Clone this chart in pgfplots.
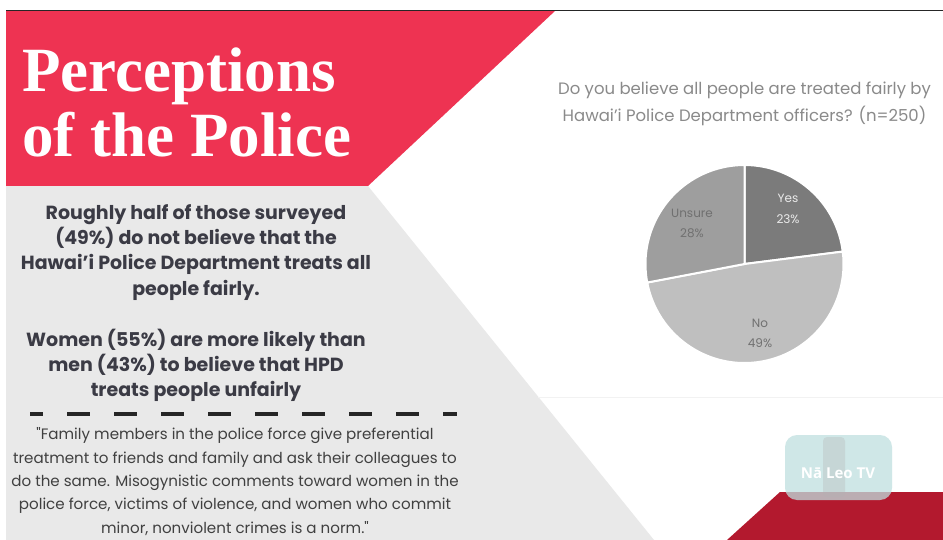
\documentclass[border=0pt]{standalone}
\usepackage{pgfplots}
\pgfplotsset{compat=1.18}
\usepackage{pgfplotstable}
\usepackage{fontspec}
\setmainfont{Poppins}
\newfontfamily\titlefont{Liberation Serif}
\newfontfamily\wmfont{Open Sans}
\newfontfamily\qfont[Ligatures=ResetAll]{Poppins}
\definecolor{hred}{HTML}{EE3352}
\definecolor{dred}{HTML}{B3192E}
\definecolor{panel}{HTML}{E9E9E9}
\definecolor{txt}{HTML}{3B3B45}
\definecolor{qtxt}{HTML}{404040}
\definecolor{yescol}{HTML}{7B7B7B}
\definecolor{nocol}{HTML}{BFBFBF}
\definecolor{unscol}{HTML}{9E9E9E}
\definecolor{ptitle}{HTML}{8A8A8A}
\definecolor{plab}{HTML}{707070}
\pgfplotstableread{
label value
Yes 23
No 49
Unsure 28
}\piedata
\begin{document}
\begin{tikzpicture}[x=1pt,y=1pt]
\pgfplotstablegetelem{0}{value}\of\piedata\edef\vYes{\pgfplotsretval}
\pgfplotstablegetelem{1}{value}\of\piedata\edef\vNo{\pgfplotsretval}
\pgfplotstablegetelem{2}{value}\of\piedata\edef\vUns{\pgfplotsretval}
\pgfmathsetmacro\aA{90-3.6*\vYes}
\pgfmathsetmacro\aB{\aA-3.6*\vNo}
\pgfmathsetmacro\aC{\aB-3.6*\vUns}
\path[use as bounding box] (0,0) rectangle (943,-540);
\fill[white] (0,0) rectangle (943,-540);
% panels
\fill[panel] (6,-186) -- (368,-186) -- (654,-540) -- (6,-540) -- cycle;
\fill[hred] (6,-11) -- (555,-11) -- (368,-186) -- (6,-186) -- cycle;
\draw[black!85, line width=1.5pt] (6,-10.5) -- (943,-10.5);
\draw[black!5, line width=0.8pt] (538,-397) -- (943,-397);
\fill[dred] (780,-492) -- (943,-492) -- (943,-540) -- (727,-540) -- cycle;
% title
\node[anchor=base west, inner sep=0, text=white, font=\titlefont\bfseries\fontsize{63}{63}\selectfont] at (22,-92) {Perceptions};
\node[anchor=base west, inner sep=0, text=white, font=\titlefont\bfseries\fontsize{63}{63}\selectfont] at (22,-157) {of the Police};
% bold statements
\begin{scope}[every node/.style={anchor=base, inner sep=0, text=txt, font=\bfseries\fontsize{19}{19}\selectfont}]
\node at (196,-220) {Roughly half of those surveyed};
\node at (196,-245) {(49\%) do not believe that the};
\node at (196,-270) {Hawai’i Police Department treats all};
\node at (196,-295) {people fairly.};
\node at (196,-346) {Women (55\%) are more likely than};
\node at (196,-371) {men (43\%) to believe that HPD};
\node at (196,-396) {treats people unfairly};
\end{scope}
\draw[black!85, line width=4pt, dash pattern=on 23pt off 24pt, dash phase=10pt] (30,-414) -- (457,-414);
\begin{scope}[every node/.style={anchor=base, inner sep=0, text=qtxt, font=\qfont\fontsize{15.1}{15.1}\selectfont}]
\node at (235,-439) {"Family members in the police force give preferential};
\node at (235,-463) {treatment to friends and family and ask their colleagues to};
\node at (235,-486) {do the same. Misogynistic comments toward women in the};
\node at (235,-509) {police force, victims of violence, and women who commit};
\node at (235,-533) {minor, nonviolent crimes is a norm."};
\end{scope}
% pie title
\node[anchor=base, inner sep=0, text=ptitle, font=\fontsize{16.5}{16.5}\selectfont] at (744.5,-95) {Do you believe all people are treated fairly by};
\node[anchor=base, inner sep=0, text=ptitle, font=\fontsize{16.5}{16.5}\selectfont] at (744.5,-122) {Hawai'i Police Department officers? (n=250)};
% pie
\begin{axis}[at={(744.5pt,-264pt)}, anchor=origin, x=99pt, y=99pt,
  xmin=-1.2, xmax=1.2, ymin=-1.2, ymax=1.2, hide axis, clip=false]
\fill[yescol, draw=white, line width=2pt] (axis cs:0,0) -- ++(90:99pt) arc[start angle=90, end angle=\aA, radius=99pt] -- cycle;
\fill[nocol, draw=white, line width=2pt] (axis cs:0,0) -- ++(\aA:99pt) arc[start angle=\aA, end angle=\aB, radius=99pt] -- cycle;
\fill[unscol, draw=white, line width=2pt] (axis cs:0,0) -- ++(\aB:99pt) arc[start angle=\aB, end angle=\aC, radius=99pt] -- cycle;
\begin{scope}[every node/.style={anchor=base, inner sep=0, font=\fontsize{12}{12}\selectfont}]
\node[text=white!92!black] at (axis cs:0.44,0.626) {Yes};
\node[text=white!92!black] at (axis cs:0.44,0.414) {23\%};
\node[text=plab] at (axis cs:-0.53,0.465) {Unsure};
\node[text=plab] at (axis cs:-0.53,0.263) {28\%};
\node[text=plab] at (axis cs:0.157,-0.646) {No};
\node[text=plab] at (axis cs:0.157,-0.848) {49\%};
\end{scope}
\end{axis}
% watermark
\fill[teal!25!white, opacity=0.75, rounded corners=12pt] (785,-435) rectangle (892,-500);
\fill[gray!60, opacity=0.3, rounded corners=4pt] (823,-437) rectangle (845,-497);
\node[anchor=base, inner sep=0, text=white, font=\wmfont\bfseries\fontsize{15}{15}\selectfont] at (838,-478) {Nā Leo TV};
\end{tikzpicture}
\end{document}
